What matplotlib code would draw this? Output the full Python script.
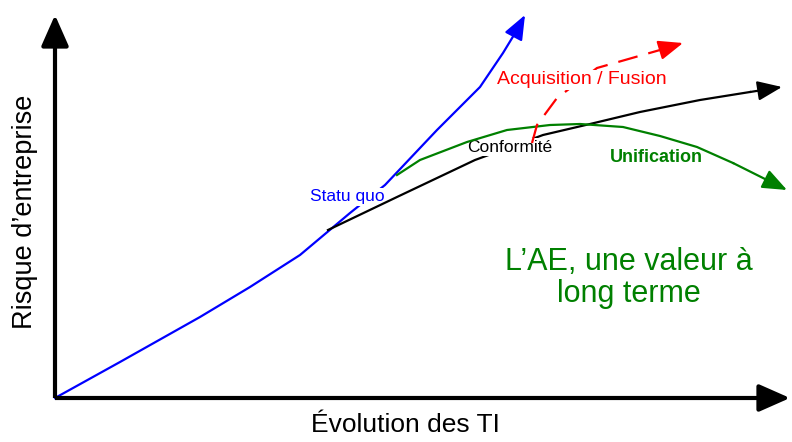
import matplotlib
matplotlib.use("Agg")
import matplotlib.pyplot as plt

plt.rcParams['font.family'] = ['Liberation Sans', 'DejaVu Sans']

# curves (origin = crossing of the two axes)
statu_x = [0, 65, 145, 195, 245, 295, 330, 382, 425, 448, 462, 470]
statu_y = [0, 36, 81, 111, 143, 185, 213, 268, 311, 345, 368, 383]

conf_x = [273, 342, 420, 488, 535, 585, 645, 695, 727]
conf_y = [168, 201, 238, 263, 274, 286, 298, 306, 311]

unif_x = [342, 365, 412, 452, 495, 525, 568, 605, 642, 678, 732]
unif_y = [223, 238, 256, 268, 273, 274, 271, 262, 251, 235, 208]

acq_x = [477, 482, 502, 542, 570, 605, 628]
acq_y = [255, 273, 300, 330, 338, 348, 355]

x_max, y_max = 735, 383

fig = plt.figure(figsize=(7.92, 4.42), dpi=100)
ax = fig.add_axes([0, 0, 1, 1])
ax.set_xlim(-55, 737)
ax.set_ylim(-44, 398)
ax.axis('off')


def arrow(x0, y0, x1, y1, color, lw, hl, hw, z=5):
    ax.annotate("", xy=(x1, y1), xytext=(x0, y0),
                arrowprops=dict(arrowstyle='-|>,head_length=%s,head_width=%s' % (hl, hw),
                                mutation_scale=20, color=color, lw=lw,
                                shrinkA=0, shrinkB=0), zorder=z)


# axes
ax.plot([0, 0], [0, y_max - 20], color='black', lw=3, solid_capstyle='butt', zorder=4)
ax.plot([0, x_max - 20], [0, 0], color='black', lw=3, solid_capstyle='butt', zorder=4)
arrow(0, y_max - 25, 0, y_max, 'black', 3, 0.95, 0.42)
arrow(x_max - 25, 0, x_max, 0, 'black', 3, 0.95, 0.42)

# curves
ax.plot(statu_x[:-1], statu_y[:-1], color='#0000ff', lw=1.6, zorder=2)
arrow(statu_x[-2], statu_y[-2], statu_x[-1], statu_y[-1], '#0000ff', 1.6, 0.75, 0.3, 2)

ax.plot(conf_x[:-1], conf_y[:-1], color='black', lw=1.6, zorder=3)
arrow(conf_x[-2], conf_y[-2], conf_x[-1], conf_y[-1], 'black', 1.6, 0.75, 0.3, 3)

ax.plot(unif_x[:-1], unif_y[:-1], color='#008000', lw=1.6, zorder=6)
arrow(unif_x[-2], unif_y[-2], unif_x[-1], unif_y[-1], '#008000', 1.6, 0.75, 0.3, 6)

ax.plot(acq_x[:-1], acq_y[:-1], color='#ff0000', lw=1.6, dashes=(9, 5), zorder=6)
arrow(acq_x[-2], acq_y[-2], acq_x[-1], acq_y[-1], '#ff0000', 1.6, 0.75, 0.3, 6)

# labels
box = dict(facecolor='white', edgecolor='none', pad=1)
ax.text(292, 201, "Statu quo", color='#0000ff', fontsize=12.5,
        ha='center', va='center', bbox=box, zorder=2.5)
ax.text(455, 251, "Conformité", color='black', fontsize=12.5,
        ha='center', va='center', bbox=box, zorder=5)
ax.text(527, 318, "Acquisition / Fusion", color='#ff0000', fontsize=14,
        ha='center', va='center', bbox=box, zorder=7)
ax.text(601, 241, "Unification", color='#008000', fontsize=13, fontweight='bold',
        ha='center', va='center', zorder=7)
ax.text(574, 120, "L’AE, une valeur à\nlong terme", color='#008000', fontsize=22,
        ha='center', va='center', linespacing=1.1, zorder=7)

ax.text(350, -27, "Évolution des TI", fontsize=19, ha='center', va='center')
ax.text(-30, 186, "Risque d’entreprise", fontsize=19.5, ha='center', va='center',
        rotation=90)

fig.savefig("out.png", dpi=100)
